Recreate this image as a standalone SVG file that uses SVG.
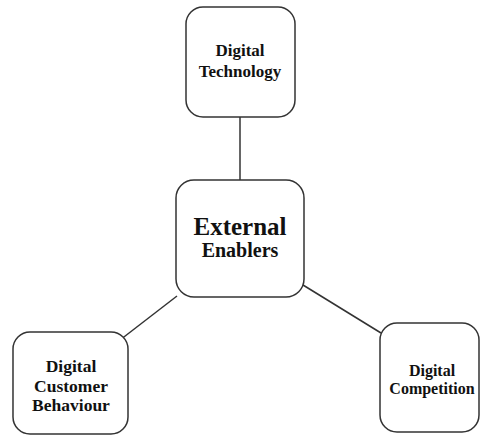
<svg xmlns="http://www.w3.org/2000/svg" width="480" height="436" viewBox="0 0 480 436">
<style>
.box{fill:#fff;stroke:#333;stroke-width:1.5}
.t{font-family:"Liberation Serif","Times New Roman",serif;font-weight:bold;fill:#111;text-anchor:middle}
.c{stroke:#333;stroke-width:1.5;fill:none}
</style>
<rect width="480" height="436" fill="#fff"/>
<g id="connectors">
<line class="c" x1="240" y1="117" x2="240" y2="180"/>
<line class="c" x1="177" y1="296" x2="120" y2="340"/>
<line class="c" x1="303" y1="285" x2="381" y2="333"/>
</g>
<g id="node-center">
<rect class="box" x="176" y="180" width="128" height="117" rx="18"/>
<text class="t" x="240" y="235" font-size="25">External</text>
<text class="t" x="240" y="257" font-size="20">Enablers</text>
</g>
<g id="node-technology">
<rect class="box" x="186" y="7" width="109" height="110" rx="17"/>
<text class="t" x="240" y="56" font-size="17">Digital</text>
<text class="t" x="240" y="77" font-size="17">Technology</text>
</g>
<g id="node-customer">
<rect class="box" x="13" y="332" width="115" height="102" rx="17"/>
<text class="t" x="71" y="372" font-size="17.5">Digital</text>
<text class="t" x="71" y="392" font-size="17.5">Customer</text>
<text class="t" x="71" y="411" font-size="17.5">Behaviour</text>
</g>
<g id="node-competition">
<rect class="box" x="380" y="323" width="99" height="109" rx="17"/>
<text class="t" x="432" y="376" font-size="16">Digital</text>
<text class="t" x="432" y="394" font-size="16">Competition</text>
</g>
</svg>
